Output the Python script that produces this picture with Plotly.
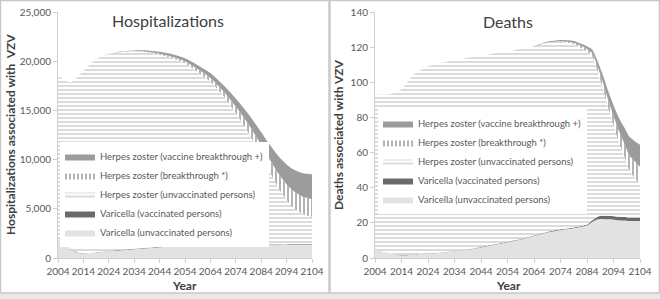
import plotly.graph_objects as go

years = [2004, 2009, 2014, 2019, 2024, 2029, 2034, 2039, 2044, 2049, 2054, 2059, 2064,
         2069, 2074, 2079, 2084, 2086, 2088, 2090, 2092, 2094, 2096, 2098, 2100, 2102, 2104]

series_names = [
    "Varicella (unvaccinated persons)",
    "Varicella (vaccinated persons)",
    "Herpes zoster (unvaccinated persons)",
    "Herpes zoster (breakthrough *)",
    "Herpes zoster (vaccine breakthrough +)",
]

# Hospitalizations
hosp_var_unvac = [2100, 900, 400, 550, 700, 800, 900, 1000, 1100, 1150, 1200, 1250, 1280,
                  1300, 1320, 1330, 1340, 1342, 1344, 1350, 1355, 1360, 1362, 1365, 1370, 1375, 1380]
hosp_var_vac = [0, 20, 30, 40, 40, 50, 50, 50, 50, 50, 50, 50, 50,
                50, 50, 50, 50, 50, 50, 50, 50, 50, 50, 50, 50, 50, 50]
hosp_hz_unvac = [16400, 16930, 18570, 19610, 19960, 20100, 20050, 19850, 19500, 19100, 18550, 17600, 16570,
                 15150, 13330, 11320, 9010, 7988, 7056, 6080, 5225, 4490, 3858, 3425, 3080, 2885, 2770]
hosp_hz_bt = [0, 0, 0, 0, 0, 0, 0, 50, 100, 150, 200, 300, 400,
              500, 700, 900, 1100, 1200, 1300, 1420, 1520, 1600, 1680, 1730, 1770, 1790, 1800]
hosp_hz_vacbt = [0, 0, 0, 0, 0, 50, 100, 150, 200, 250, 300, 400, 500,
                 600, 800, 1000, 1300, 1420, 1550, 1700, 1850, 2000, 2150, 2280, 2380, 2450, 2500]

# Deaths
death_var_unvac = [4.6, 2.8, 1.5, 2.0, 2.5, 3.0, 3.8, 4.8, 6.0, 7.5, 9.0, 10.5, 12.5,
                   14.5, 16.0, 17.0, 18.5, 20.5, 22.0, 22.2, 22.0, 21.8, 21.5, 21.3, 21.0, 21.0, 21.0]
death_var_vac = [0, 0.1, 0.2, 0.2, 0.2, 0.2, 0.2, 0.2, 0.3, 0.3, 0.3, 0.3, 0.3,
                 0.3, 0.3, 0.3, 0.5, 1.0, 1.5, 1.8, 2.0, 2.0, 2.0, 2.0, 2.0, 2.0, 2.0]
death_hz_unvac = [88.4, 90.1, 94.3, 102.8, 106.3, 107.8, 108.5, 109.0, 108.7, 108.7, 108.2, 108.2, 107.5,
                  107.8, 106.8, 104.4, 98.5, 93.0, 82.7, 72.5, 61.5, 51.7, 42.5, 34.7, 27.0, 22.5, 18.5]
death_hz_bt = [0, 0, 0, 0, 0, 0, 0, 0, 0, 0, 0, 0, 0,
               0, 0.3, 0.8, 1.5, 2.0, 2.8, 3.5, 4.5, 5.5, 6.5, 7.5, 8.5, 9.5, 10.5]
death_hz_vacbt = [0, 0, 0, 0, 0, 0, 0, 0, 0, 0, 0, 0, 0.2,
                  0.4, 0.6, 1.0, 1.5, 2.0, 3.0, 4.0, 5.0, 6.0, 7.5, 9.0, 10.5, 11.5, 12.5]

x_ticks = [2004, 2014, 2024, 2034, 2044, 2054, 2064, 2074, 2084, 2094, 2104]
hosp_ticks = [0, 5000, 10000, 15000, 20000, 25000]
death_ticks = [0, 20, 40, 60, 80, 100, 120, 140]

FONT = "Lato, 'Liberation Sans', sans-serif"
TXT = "#595959"

styles = [
    dict(fillcolor="#e2e2e2"),
    dict(fillcolor="#6a6a6a"),
    dict(fillcolor="#ffffff", fillpattern=dict(shape="-", fgcolor="#a6a6a6", bgcolor="#ffffff",
                                                size=4, solidity=0.4, fillmode="overlay")),
    dict(fillcolor="#ffffff", fillpattern=dict(shape="|", fgcolor="#404040", bgcolor="#ffffff",
                                                size=4, solidity=0.4, fillmode="overlay")),
    dict(fillcolor="#9c9c9c"),
]

fig = go.Figure()

hosp = [hosp_var_unvac, hosp_var_vac, hosp_hz_unvac, hosp_hz_bt, hosp_hz_vacbt]
death = [death_var_unvac, death_var_vac, death_hz_unvac, death_hz_bt, death_hz_vacbt]

for i, (name, vals) in enumerate(zip(series_names, hosp)):
    fig.add_trace(go.Scatter(x=years, y=vals, name=name, mode="lines", stackgroup="h",
                             line=dict(width=0, shape="spline", smoothing=0.6),
                             xaxis="x", yaxis="y", legend="legend", **styles[i]))
for i, (name, vals) in enumerate(zip(series_names, death)):
    fig.add_trace(go.Scatter(x=years, y=vals, name=name, mode="lines", stackgroup="d",
                             line=dict(width=0, shape="spline", smoothing=0.6),
                             xaxis="x2", yaxis="y2", legend="legend2", **styles[i]))

W, H = 660, 299
def px(x):
    return x / W
def py(y):
    return 1 - y / H

axis_common = dict(showgrid=False, zeroline=False, showline=True, linecolor="#d0d0d0", linewidth=1,
                   ticks="outside", ticklen=4, tickcolor="#d0d0d0", automargin=False,
                   tickfont=dict(family=FONT, size=10, color=TXT))

fig.update_layout(
    width=W, height=H,
    margin=dict(l=0, r=0, t=0, b=0, autoexpand=False),
    paper_bgcolor="#ffffff", plot_bgcolor="rgba(0,0,0,0)",
    font=dict(family=FONT, color=TXT),
    showlegend=True,
    xaxis=dict(domain=[px(58), px(312)], range=[2004, 2104], tickvals=x_ticks, tickangle=0,
               anchor="y", **axis_common),
    yaxis=dict(domain=[py(258), py(12)], range=[0, 25000], tickvals=hosp_ticks, tickformat=",d",
               anchor="x", **axis_common),
    xaxis2=dict(domain=[px(375), px(640)], range=[2004, 2104], tickvals=x_ticks, tickangle=0,
                anchor="y2", **axis_common),
    yaxis2=dict(domain=[py(258), py(12)], range=[0, 140], tickvals=death_ticks, anchor="x2", **axis_common),
    legend=dict(x=px(60), y=py(142), xanchor="left", yanchor="top", bgcolor="#ffffff",
                traceorder="reversed", font=dict(family=FONT, size=9.5, color=TXT),
                itemwidth=30, tracegroupgap=0),
    legend2=dict(x=px(378), y=py(109), xanchor="left", yanchor="top", bgcolor="#ffffff",
                 traceorder="reversed", font=dict(family=FONT, size=9.5, color=TXT),
                 itemwidth=30, tracegroupgap=0),
)

ann = [
    dict(text="Hospitalizations", x=px(168), y=py(21), font=dict(size=16, color="#404040")),
    dict(text="Deaths", x=px(508), y=py(22), font=dict(size=16, color="#404040")),
    dict(text="<b>Year</b>", x=px(185), y=py(285), font=dict(size=12, color="#404040")),
    dict(text="<b>Year</b>", x=px(508), y=py(285), font=dict(size=12, color="#404040")),
    dict(text="<b>Hospitalizations associated with  VZV</b>", x=px(11), y=py(135), textangle=-90,
         font=dict(size=12, color="#404040")),
    dict(text="<b>Deaths associated with VZV</b>", x=px(339), y=py(135), textangle=-90,
         font=dict(size=12, color="#404040")),
]
for a in ann:
    fig.add_annotation(xref="paper", yref="paper", showarrow=False, xanchor="center", yanchor="middle",
                       font_family=FONT, **a)

# panel frames and bottom strip
fig.add_shape(type="rect", xref="paper", yref="paper", x0=0, x1=1, y0=0, y1=py(293),
              fillcolor="#e8e8e8", line=dict(width=0), layer="below")
fig.add_shape(type="rect", xref="paper", yref="paper", x0=px(0.5), x1=px(329), y0=py(293), y1=py(0.5),
              line=dict(color="#c8c8c8", width=1.5), layer="below")
fig.add_shape(type="rect", xref="paper", yref="paper", x0=px(330), x1=px(659.5), y0=py(293), y1=py(0.5),
              line=dict(color="#c8c8c8", width=1.5), layer="below")

fig.write_html("out.html", config={"displayModeBar": False},
               post_script="document.body.style.margin='0';document.body.style.overflow='hidden';")
